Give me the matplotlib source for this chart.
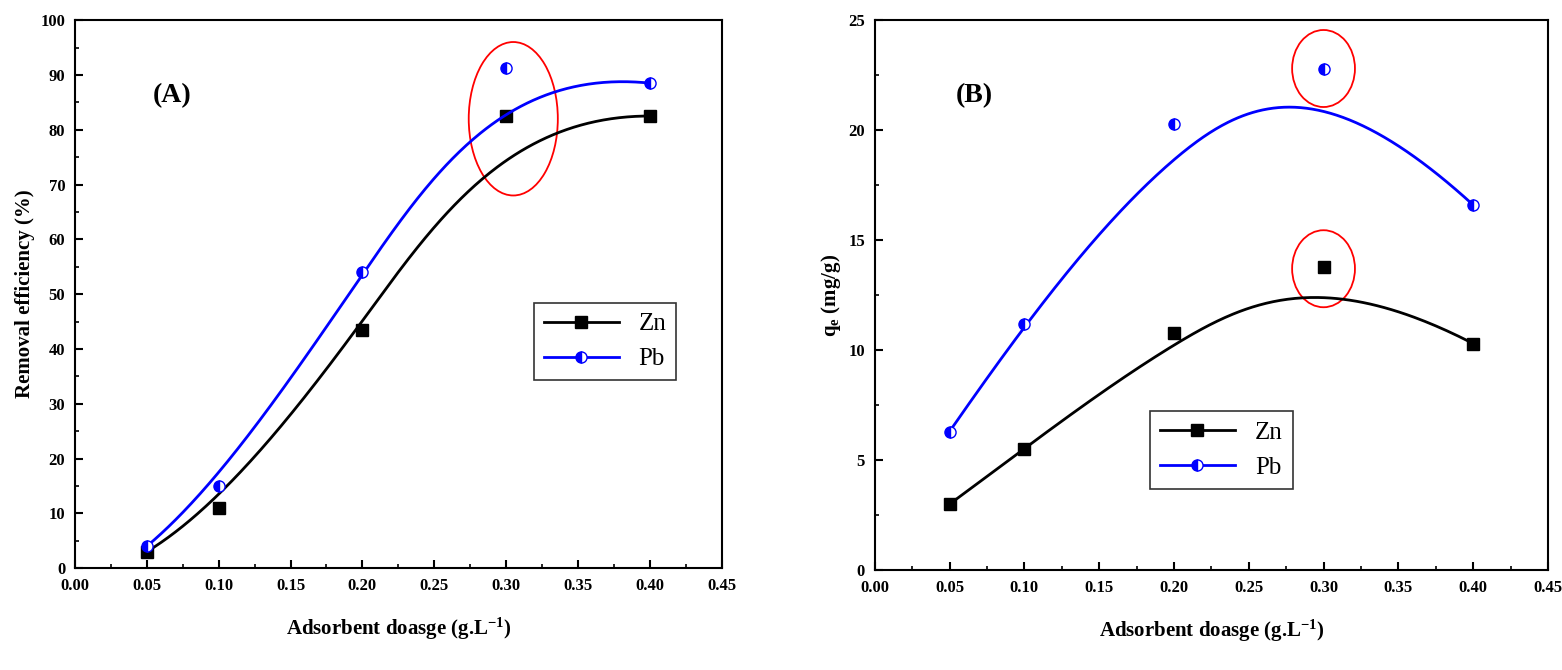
import numpy as np
import matplotlib.pyplot as plt
from matplotlib.patches import Ellipse
from matplotlib.ticker import MultipleLocator

plt.rcParams['font.family'] = ['Liberation Serif', 'DejaVu Serif']
plt.rcParams['font.weight'] = 'bold'
plt.rcParams['mathtext.default'] = 'regular'

dose = [0.05, 0.10, 0.20, 0.30, 0.40]
zn_removal = [3.0, 11.0, 43.5, 82.5, 82.5]
pb_removal = [4.0, 15.0, 54.0, 91.2, 88.5]
zn_qe = [3.0, 5.5, 10.8, 13.8, 10.3]
pb_qe = [6.3, 11.2, 20.3, 22.8, 16.6]


def basis(i, k, t, knots):
    if k == 0:
        last = (t == knots[-1]) & (knots[i + 1] == knots[-1]) & (knots[i] < knots[i + 1])
        return np.where(((knots[i] <= t) & (t < knots[i + 1])) | last, 1.0, 0.0)
    out = np.zeros_like(t)
    d1 = knots[i + k] - knots[i]
    d2 = knots[i + k + 1] - knots[i + 1]
    if d1 > 0:
        out += (t - knots[i]) / d1 * basis(i, k - 1, t, knots)
    if d2 > 0:
        out += (knots[i + k + 1] - t) / d2 * basis(i + 1, k - 1, t, knots)
    return out


def bspline(x, y, n=300):
    # Origin-style B-spline: data points act as control points
    knots = np.array([0, 0, 0, 0, 0.5, 1, 1, 1, 1], float)
    t = np.linspace(0, 1, n)
    B = np.array([basis(i, 3, t, knots) for i in range(len(x))])
    return B.T @ np.array(x), B.T @ np.array(y)


fig = plt.figure(figsize=(15.62, 6.7), dpi=100)
axA = fig.add_axes([0.048, 0.152, 0.414, 0.818])
axB = fig.add_axes([0.560, 0.149, 0.431, 0.821])


def draw(ax, zn, pb, ylim, ystep, ylabel, tag, leg_anchor, ellipses):
    for y, col, kw in [(zn, 'black', dict(marker='s', color='black')),
                       (pb, 'blue', dict(marker='o', color='blue', fillstyle='left',
                                         markerfacecoloralt='white'))]:
        cx, cy = bspline(dose, y)
        ax.plot(cx, cy, color=col, lw=2)
        ax.plot(dose, y, ls='none', ms=8, **kw)
    ax.plot([], [], color='black', marker='s', ms=8, lw=2, label='Zn')
    ax.plot([], [], color='blue', marker='o', ms=8, lw=2, fillstyle='left',
            markerfacecoloralt='white', label='Pb')
    for ex, ey, w, h in ellipses:
        ax.add_patch(Ellipse((ex, ey), w, h, fill=False, color='red', lw=1.3))
    ax.set_xlim(0, 0.45)
    ax.set_ylim(*ylim)
    ax.xaxis.set_major_locator(MultipleLocator(0.05))
    ax.xaxis.set_minor_locator(MultipleLocator(0.025))
    ax.yaxis.set_major_locator(MultipleLocator(ystep))
    ax.yaxis.set_minor_locator(MultipleLocator(ystep / 2))
    ax.tick_params(which='both', direction='in', labelsize=12, pad=7)
    ax.tick_params(which='major', length=6, width=1.5)
    ax.tick_params(which='minor', length=3, width=1.2)
    ax.xaxis.set_major_formatter(plt.FuncFormatter(lambda v, p: f'{v:.2f}'))
    for s in ax.spines.values():
        s.set_linewidth(1.5)
    ax.set_xlabel('Adsorbent doasge (g.L$^{-1}$)', fontsize=15, fontweight='bold', labelpad=16)
    ax.set_ylabel(ylabel, fontsize=15, fontweight='bold')
    ax.text(0.12, 0.85, tag, transform=ax.transAxes, fontsize=20, fontweight='bold')
    leg = ax.legend(loc='lower left', bbox_to_anchor=leg_anchor, fancybox=False,
                    edgecolor='black', prop={'size': 18, 'weight': 'normal'},
                    handlelength=3, borderpad=0.4)
    leg.get_frame().set_linewidth(1.2)


draw(axA, zn_removal, pb_removal, (0, 100), 10, 'Removal efficiency (%)', '(A)',
     (0.69, 0.32), [(0.305, 82, 0.062, 28)])
draw(axB, zn_qe, pb_qe, (0, 25), 5, 'q$_e$ (mg/g)', '(B)',
     (0.39, 0.125), [(0.30, 22.8, 0.042, 3.5), (0.30, 13.7, 0.042, 3.5)])

fig.savefig('out.png', dpi=100)
